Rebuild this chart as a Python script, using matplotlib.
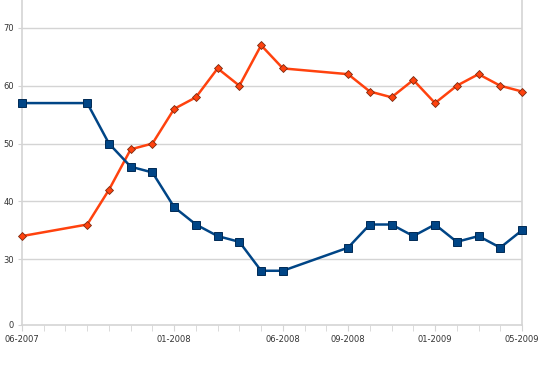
import matplotlib
matplotlib.use("Agg")
import matplotlib.pyplot as plt
import numpy as np

# category slots on the x axis (one per month, 06-2007 .. 05-2009)
n_months = 24
month_labels = {0: "06-2007", 7: "01-2008", 12: "06-2008", 15: "09-2008",
                19: "01-2009", 23: "05-2009"}

idx = [0, 3, 4, 5, 6, 7, 8, 9, 10, 11, 12, 15, 16, 17, 18, 19, 20, 21, 22, 23]
blue = [57, 57, 50, 46, 45, 39, 36, 34, 33, 28, 28, 32, 36, 36, 34, 36, 33, 34, 32, 35]
orange = [34, 36, 42, 49, 50, 56, 58, 63, 60, 67, 63, 62, 59, 58, 61, 57, 60, 62, 60, 59]

y_ticks = [30, 40, 50, 60, 70]
# axis is broken: the "0" sits a bit more than one step below 30
ZERO_POS = 30 - 66 / 58 * 10

GRID = "#d4d4d4"
TXT = "#333333"

fig = plt.figure(figsize=(5.6, 3.65), dpi=100)
ax = fig.add_axes([22 / 560, 40 / 365, 500 / 560, 325 / 365])

for y in y_ticks:
    ax.axhline(y, color=GRID, lw=1.0, zorder=1)

ax.plot(idx, orange, color="#ff420e", lw=1.8, marker="D", ms=4.2,
        mfc="#ff420e", mec="#7a2a10", mew=0.6, zorder=3, clip_on=False)
ax.plot(idx, blue, color="#004586", lw=1.8, marker="s", ms=5.5,
        mfc="#004586", mec="#002a55", mew=0.7, zorder=4, clip_on=False)

ax.set_xlim(0, n_months - 1)
ax.set_ylim(ZERO_POS, 70 + 28 / 58 * 10)

ax.set_yticks([ZERO_POS] + y_ticks)
ax.set_yticklabels(["0"] + [str(v) for v in y_ticks])
ax.set_xticks(list(month_labels.keys()))
ax.set_xticklabels(list(month_labels.values()))
ax.set_xticks(np.arange(n_months), minor=True)

ax.tick_params(axis="both", labelsize=6, colors=TXT, length=3, width=0.8)
ax.tick_params(axis="x", which="both", color=GRID, length=4, pad=3)
ax.tick_params(axis="y", color=GRID, length=3, pad=3)

for side in ["left", "right", "bottom"]:
    ax.spines[side].set_color(GRID)
    ax.spines[side].set_linewidth(1.2)
ax.spines["top"].set_visible(False)

fig.savefig("out.png", dpi=100, facecolor="white")
